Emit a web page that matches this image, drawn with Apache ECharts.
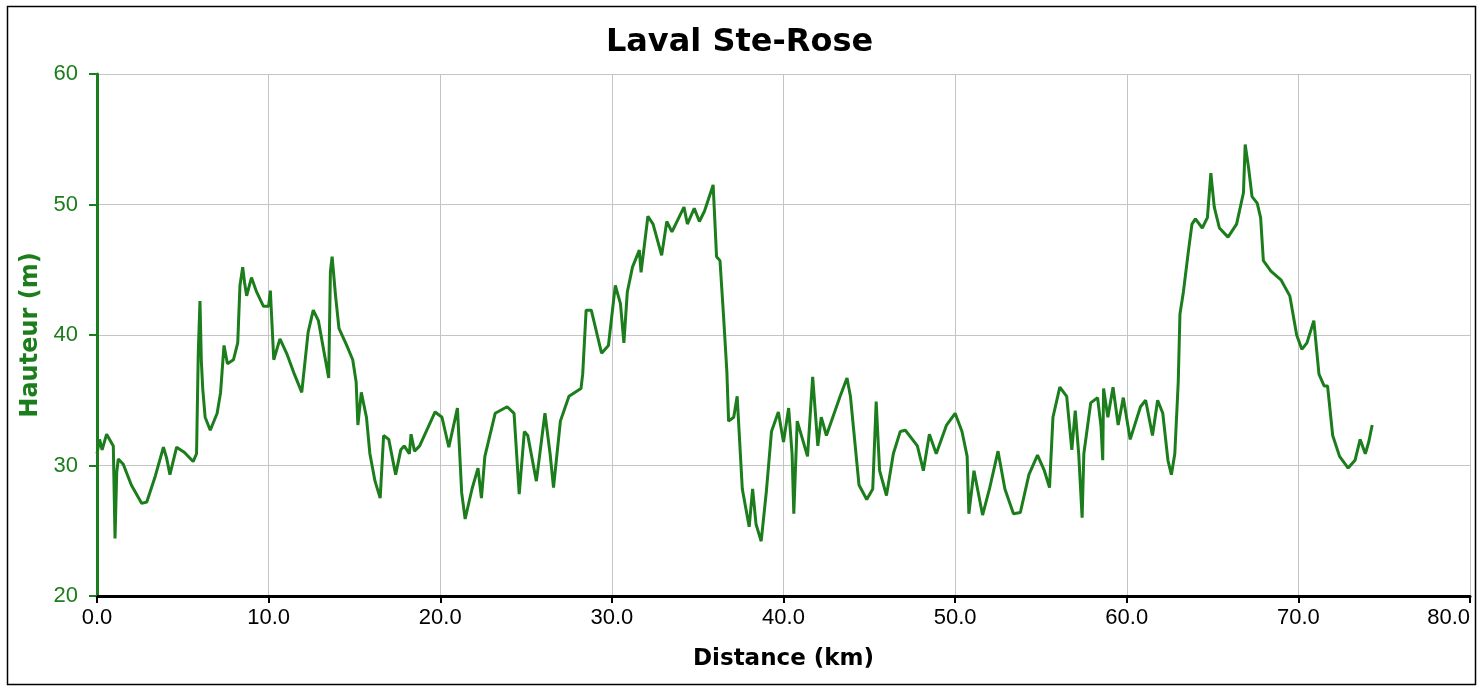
<!DOCTYPE html>
<html><head><meta charset="utf-8">
<script src="https://cdn.jsdelivr.net/npm/echarts@6/dist/echarts.min.js"></script>
<style>html,body{margin:0;padding:0;background:#fff}#c{width:1479px;height:687px}</style>
</head><body><div id="c"></div>
<script>
const title = 'Laval Ste-Rose';
const xName = 'Distance (km)';
const yName = 'Hauteur (m)';
const dist = [0.0,0.15,0.3,0.56,0.95,1.05,1.15,1.24,1.53,2.0,2.6,2.9,3.4,3.87,4.05,4.25,4.64,5.1,5.6,5.8,5.9,6.0,6.08,6.16,6.3,6.6,7.0,7.2,7.4,7.6,7.95,8.2,8.33,8.49,8.6,8.72,9.0,9.3,9.7,10.0,10.1,10.3,10.66,11.05,11.5,11.93,12.3,12.6,12.9,13.5,13.6,13.7,13.9,14.1,14.55,14.9,15.1,15.2,15.4,15.7,15.9,16.2,16.5,16.7,17.0,17.4,17.7,17.9,18.2,18.3,18.5,18.8,19.7,20.1,20.5,21.0,21.25,21.45,21.85,22.2,22.4,22.6,23.2,23.9,24.3,24.6,24.9,25.1,25.6,26.1,26.4,26.6,27.0,27.5,28.2,28.3,28.5,28.8,29.4,29.8,30.2,30.5,30.7,30.9,31.2,31.6,31.7,32.1,32.4,32.9,33.2,33.5,34.2,34.4,34.8,35.1,35.4,35.9,36.1,36.3,36.5,36.7,36.8,37.1,37.3,37.6,38.0,38.2,38.4,38.7,39.0,39.3,39.7,40.0,40.3,40.5,40.6,40.8,41.4,41.7,42.0,42.2,42.5,43.3,43.7,43.9,44.4,44.85,45.2,45.4,45.6,46.0,46.4,46.8,47.1,47.8,48.15,48.5,48.9,49.5,50.0,50.4,50.7,50.8,51.1,51.6,52.0,52.5,52.9,53.4,53.8,54.3,54.8,55.2,55.5,55.7,56.1,56.5,56.8,57.0,57.2,57.4,57.5,57.9,58.3,58.5,58.6,58.65,58.9,59.2,59.5,59.8,60.2,60.8,61.1,61.5,61.8,62.1,62.4,62.6,62.8,63.0,63.1,63.3,63.6,63.8,64.0,64.4,64.7,64.9,65.1,65.4,65.9,66.4,66.8,66.9,67.1,67.3,67.6,67.8,67.96,68.4,69.0,69.5,69.9,70.2,70.5,70.9,71.2,71.5,71.7,72.0,72.4,72.9,73.3,73.6,73.9,74.1,74.3];
const elev = [30.9,32.0,31.2,32.4,31.5,24.4,29.5,30.5,30.1,28.5,27.1,27.2,29.2,31.4,30.6,29.3,31.4,31.0,30.3,30.9,38.6,42.6,38.0,35.9,33.7,32.7,34.0,35.6,39.2,37.8,38.1,39.4,43.8,45.2,44.0,43.0,44.4,43.3,42.2,42.2,43.4,38.1,39.7,38.6,37.0,35.6,40.2,41.9,41.1,36.7,44.9,46.0,43.0,40.5,39.2,38.1,36.4,33.1,35.6,33.7,30.9,28.8,27.5,32.3,32.0,29.3,31.2,31.5,30.9,32.4,31.1,31.5,34.1,33.7,31.4,34.4,27.9,25.9,28.2,29.8,27.5,30.7,34.0,34.5,34.0,27.8,32.6,32.3,28.8,34.0,30.9,28.3,33.4,35.3,35.9,37.0,41.9,41.9,38.6,39.2,43.8,42.4,39.4,43.3,45.2,46.5,44.8,49.1,48.5,46.1,48.7,47.9,49.8,48.5,49.7,48.7,49.5,51.5,46.0,45.7,41.6,37.2,33.4,33.7,35.3,28.2,25.3,28.2,25.5,24.2,28.0,32.6,34.1,31.8,34.4,30.9,26.3,33.4,30.7,36.8,31.5,33.7,32.3,35.3,36.7,35.3,28.5,27.4,28.2,34.9,29.6,27.7,30.9,32.6,32.7,31.5,29.6,32.4,30.9,33.1,34.0,32.6,30.7,26.3,29.6,26.2,28.2,31.1,28.2,26.3,26.4,29.3,30.8,29.6,28.3,33.7,36.0,35.3,31.2,34.2,30.9,26.0,30.9,34.8,35.2,33.0,30.4,35.9,33.7,36.0,33.1,35.2,32.0,34.5,35.0,32.3,35.0,34.0,30.4,29.3,30.9,36.4,41.6,43.3,46.5,48.5,48.9,48.2,49.0,52.4,49.8,48.2,47.5,48.5,50.9,54.6,52.8,50.6,50.1,49.0,45.7,44.9,44.2,43.0,40.0,38.9,39.4,41.1,37.0,36.1,36.1,32.3,30.7,29.8,30.4,32.0,30.9,31.8,33.1];

const points = dist.map((d, i) => [d, elev[i]]);
const chart = echarts.init(document.getElementById('c'));
const green = '#1b7d1b';
const tickFont = "'Liberation Sans', Arial, sans-serif";
const boldFont = "'DejaVu Sans', sans-serif";
chart.setOption({
  animation: false,
  backgroundColor: '#fff',
  title: {
    text: title, left: 'center', top: 22,
    textStyle: {fontFamily: boldFont, fontWeight: 'bold', fontSize: 32, color: '#000'}
  },
  graphic: [{
    type: 'rect',
    shape: {x: 7.5, y: 6.5, width: 1468, height: 678},
    style: {fill: 'none', stroke: '#000', lineWidth: 1.5}, silent: true, z: -1
  }],
  grid: {left: 97, right: 9, top: 74, bottom: 91, outerBoundsMode: 'none', containLabel: false},
  xAxis: {
    type: 'value', min: 0, max: 80, interval: 10,
    name: xName, nameLocation: 'middle', nameGap: 52,
    nameTextStyle: {fontFamily: boldFont, fontWeight: 'bold', fontSize: 23, color: '#000'},
    axisLine: {onZero: false, lineStyle: {color: '#000', width: 3}},
    axisTick: {show: true, length: 7, lineStyle: {color: '#000', width: 2}},
    axisLabel: {formatter: v => v.toFixed(1), fontFamily: tickFont, fontSize: 22, color: '#000', margin: 11, alignMaxLabel: 'right'},
    splitLine: {show: true, lineStyle: {color: '#c4c4c4', width: 1}}
  },
  yAxis: {
    type: 'value', min: 20, max: 60, interval: 10,
    name: yName, nameLocation: 'middle', nameGap: 46,
    nameTextStyle: {fontFamily: boldFont, fontWeight: 'bold', fontSize: 24, color: green},
    axisLine: {show: true, lineStyle: {color: green, width: 3}},
    axisTick: {show: true, length: 8, lineStyle: {color: green, width: 2}},
    axisLabel: {fontFamily: tickFont, fontSize: 22, color: green, margin: 19},
    splitLine: {show: true, lineStyle: {color: '#c4c4c4', width: 1}}
  },
  series: [{
    type: 'line', data: points, showSymbol: false, symbol: 'none',
    lineStyle: {color: green, width: 3}, z: 3
  }]
});
</script></body></html>
